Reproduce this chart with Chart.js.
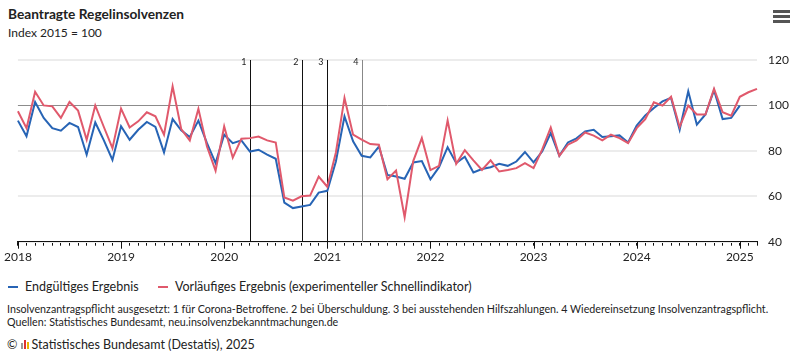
<!DOCTYPE html>
<html>
<head>
<meta charset="utf-8">
<script src="https://cdn.jsdelivr.net/npm/chart.js@4/dist/chart.umd.min.js"></script>
<style>
  body { margin: 0; width: 800px; height: 361px; background: #fff; position: relative; overflow: hidden;
         font-family: Lato, "Roboto", sans-serif; color: #222; }
  .abs { position: absolute; white-space: nowrap; }
  #title { left: 8px; top: 5px; font-size: 13.7px; font-weight: bold; }
  #subtitle { left: 8px; top: 25px; font-size: 12px; }
  #menu { left: 773px; top: 10px; width: 17px; }
  #menu div { height: 2.5px; background: #555; margin-bottom: 2.6px; }
  #wrap { left: 0; top: 50px; width: 800px; height: 220px; }
  .legend { top: 279px; font-size: 12.5px; }
  .dash { display: inline-block; width: 10px; height: 2.5px; vertical-align: middle; margin-right: 7px; position: relative; top: -1px; }
  .note { left: 7px; font-size: 10.7px; }
  #copy { left: 7px; top: 337px; font-size: 12.5px; }
  .logo { display: inline-block; width: 2px; margin-right: 1px; vertical-align: baseline; }
</style>
</head>
<body>
<div id="title" class="abs">Beantragte Regelinsolvenzen</div>
<div id="subtitle" class="abs">Index 2015 = 100</div>
<div id="menu" class="abs"><div></div><div></div><div></div></div>
<div id="wrap" class="abs"><canvas id="myChart" width="800" height="220"></canvas></div>
<div class="abs legend" style="left:8px"><span class="dash" style="background:#2764b5"></span>Endgültiges Ergebnis</div>
<div class="abs legend" style="left:158px"><span class="dash" style="background:#e0596c"></span>Vorläufiges Ergebnis (experimenteller Schnellindikator)</div>
<div class="abs note" style="top:302px">Insolvenzantragspflicht ausgesetzt: 1 für Corona-Betroffene. 2 bei Überschuldung. 3 bei ausstehenden Hilfszahlungen. 4 Wiedereinsetzung Insolvenzantragspflicht.</div>
<div class="abs note" style="top:315px">Quellen: Statistisches Bundesamt, neu.insolvenzbekanntmachungen.de</div>
<div id="copy" class="abs">© <span class="logo" style="height:6px;background:#999"></span><span class="logo" style="height:9px;background:#d33"></span><span class="logo" style="height:7px;background:#e8b400;margin-right:3px"></span>Statistisches Bundesamt (Destatis), 2025</div>

<script>
/* Data */
const startYear = 2018;
const yearLabels = ['2018', '2019', '2020', '2021', '2022', '2023', '2024', '2025'];

const endgueltig = [
  93.3, 86.4, 101.5, 94.5, 90, 88.9, 92.3, 90.5, 78.3, 92.5, 84.6, 76,
  90.8, 84.9, 89.3, 92.7, 90.5, 79.3, 94, 89, 86.1, 93.3, 83.4, 74.6,
  87.1, 83.4, 84.6, 79.7, 80.5, 78.3, 76.5, 57.2, 54.8, 55.5, 56.2, 61.6,
  62.4, 75.3, 95.2, 84.2, 77.8, 77.1, 81.9, 69.4, 68.7, 67.7, 74.9, 75.5,
  67.5, 72.8, 81.6, 74.6, 77.4, 70.5, 72, 72.8, 74.3, 73.4, 75.3, 79.5,
  74.9, 79.7, 87.8, 77.8, 83.7, 85.5, 88.6, 89.3, 86.1, 86.4, 86.8, 83.7,
  91.1, 95.6, 98.9, 101.8, 103.3, 89.3, 106.2, 91.5, 96, 106.7, 94, 94.5,
  99.9
];

const vorlaeufig = [
  97.4, 90, 106, 100, 99.6, 94.5, 101.5, 97.7, 84.9, 100, 90.5, 81.2,
  98.6, 90.3, 93, 97, 95.2, 87.1, 108.4, 89.6, 84.6, 98.5, 81.9, 71.3,
  90.8, 77, 85.3, 85.6, 86.3, 84.6, 83.7, 59.5, 58.1, 60, 60.3, 68.7,
  64.2, 79.3, 103.3, 87.1, 84.9, 83, 82.7, 67.5, 71.3, 50.8, 75.5, 85.6,
  71.5, 73.4, 93.4, 74.3, 80.3, 75.8, 71.6, 75.8, 70.9, 71.6, 72.4, 74.6,
  72.4, 80.5, 90.3, 77.8, 82.7, 84.6, 88.1, 86.7, 84.6, 87.1, 85.6, 83.4,
  90, 94, 101.4, 99.9, 103.8, 90.5, 99.9, 96, 96, 107.3, 97, 95.5,
  103.8, 105.8, 107.3
];

// month index of the markers (0 = Jan 2018)
const eventMonths = [27, 33, 36, 40];
const eventLabels = ['1', '2', '3', '4'];

const months = [];
for (let i = 0; i < vorlaeufig.length; i++) {
  months.push((startYear + Math.floor(i / 12)) + '-' + String(i % 12 + 1).padStart(2, '0'));
}

/* Plugins */
const eventLines = {
  id: 'eventLines',
  beforeDatasetsDraw(chart) {
    const { ctx, chartArea, scales } = chart;
    ctx.save();
    eventMonths.forEach((m, i) => {
      const x = Math.round(scales.x.getPixelForValue(m)) + 0.5;
      ctx.strokeStyle = i === 3 ? '#888' : '#111';
      ctx.lineWidth = 1;
      ctx.beginPath();
      ctx.moveTo(x, chartArea.top);
      ctx.lineTo(x, chartArea.bottom);
      ctx.stroke();
      ctx.fillStyle = '#222';
      ctx.font = '9px Lato, sans-serif';
      ctx.textAlign = 'right';
      ctx.textBaseline = 'middle';
      ctx.fillText(eventLabels[i], x - 4, chartArea.top + 2);
    });
    ctx.restore();
  },
  afterDraw(chart) {
    const { ctx, chartArea, scales } = chart;
    ctx.save();
    ctx.strokeStyle = '#111';
    ctx.lineWidth = 1;
    yearLabels.forEach((y, i) => {
      const x = Math.round(scales.x.getPixelForValue(i * 12)) + 0.5;
      ctx.beginPath();
      ctx.moveTo(x, chartArea.bottom);
      ctx.lineTo(x, chartArea.bottom + 7);
      ctx.stroke();
    });
    ctx.restore();
  }
};

/* Chart */
function initChart() {
  const ctx = document.getElementById('myChart').getContext('2d');
  Chart.defaults.font.family = 'Lato, "Roboto", sans-serif';
  Chart.defaults.color = '#222';

  // eslint-disable-next-line no-unused-vars
  const myChart = new Chart(ctx, {
    type: 'line',
    data: {
      labels: months,
      datasets: [{
        label: 'Vorläufiges Ergebnis (experimenteller Schnellindikator)',
        borderColor: '#e0596c',
        backgroundColor: '#e0596c',
        data: vorlaeufig,
        order: 1
      },
      {
        label: 'Endgültiges Ergebnis',
        borderColor: '#2764b5',
        backgroundColor: '#2764b5',
        data: endgueltig,
        order: 2
      }]
    },
    options: {
      responsive: false,
      animation: false,
      layout: { padding: { left: 17, top: 10, right: 0, bottom: 0 } },
      elements: {
        point: { radius: 0 },
        line: { borderWidth: 2, tension: 0 }
      },
      plugins: {
        legend: { display: false },
        tooltip: { enabled: false }
      },
      scales: {
        x: {
          type: 'category',
          offset: false,
          grid: { drawOnChartArea: false, tickLength: 4, color: '#111' },
          border: { color: '#111' },
          ticks: {
            autoSkip: false,
            maxRotation: 0,
            padding: 4,
            font: { size: 12 },
            callback: (v, i) => (i % 12 === 0 ? yearLabels[i / 12] : '')
          },
          afterFit: (scale) => { scale.height = 28.3; }
        },
        y: {
          position: 'right',
          min: 40,
          max: 120,
          grid: {
            drawTicks: false,
            color: (c) => (c.tick && c.tick.value === 100 ? '#8c8c8c' : '#ececec'),
            lineWidth: (c) => (c.tick && c.tick.value === 100 ? 1 : 2)
          },
          border: { display: false },
          ticks: { stepSize: 20, padding: 11, font: { size: 12 } },
          afterFit: (scale) => {
            scale.width = 43;
            scale.paddingTop = 0;
            scale.paddingBottom = 0;
          }
        }
      }
    },
    plugins: [eventLines]
  });
}

const app = () => {
  initChart();
};

app();
</script>
</body>
</html>
